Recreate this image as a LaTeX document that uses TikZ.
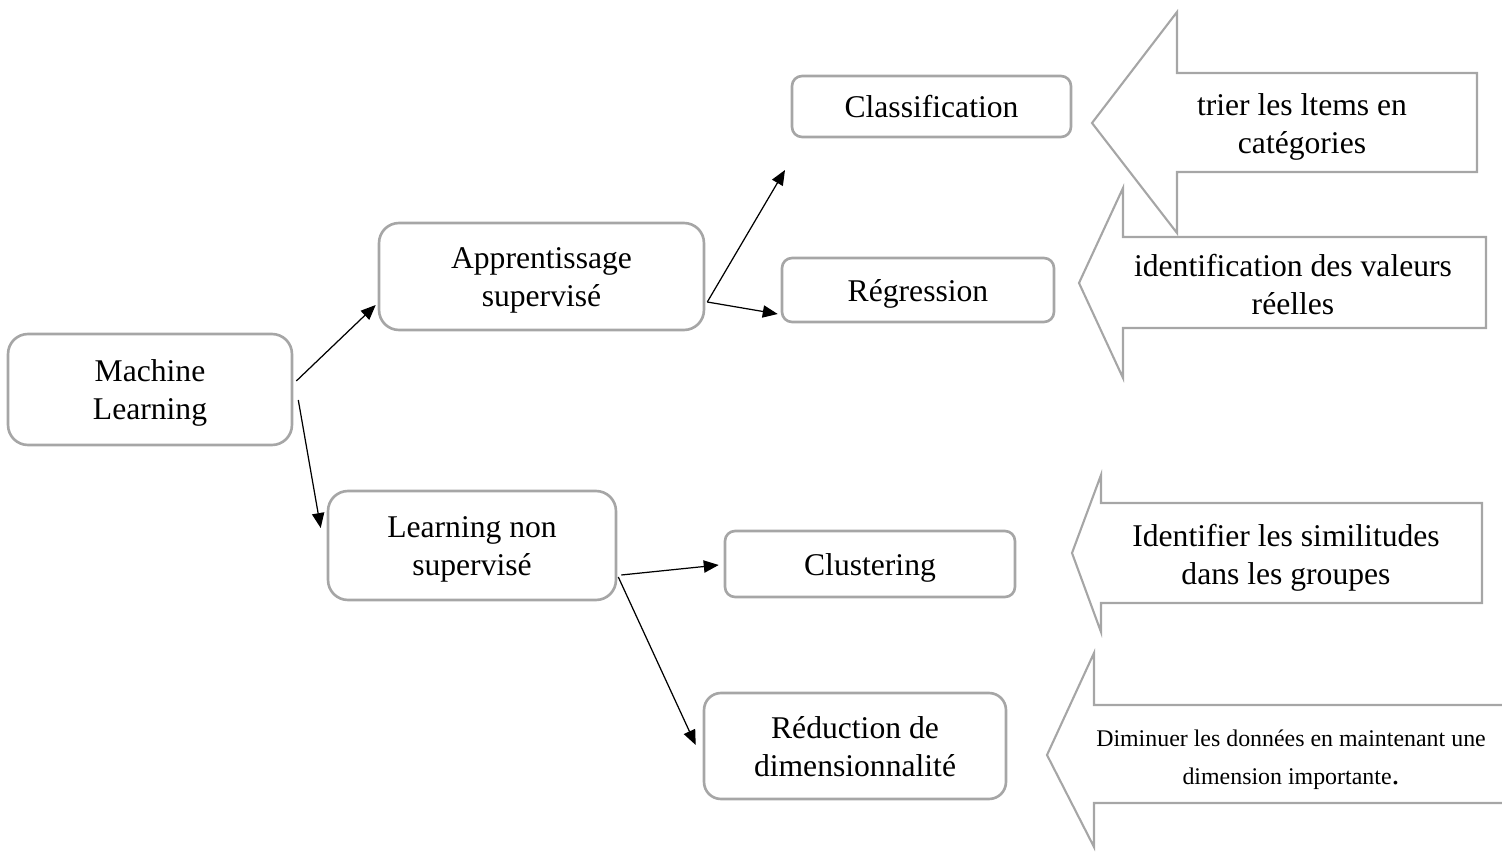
\documentclass[tikz,border=0pt]{standalone}
\usepackage{fontspec}
\setmainfont{Liberation Serif}
\usetikzlibrary{arrows.meta}
\usetikzlibrary{calc}
\definecolor{boxgray}{HTML}{A6A6A6}
\newcommand{\boxtext}[1]{\raisebox{-2.2pt}[\height][\depth]{\begin{tabular}{@{}c@{}}#1\end{tabular}}}

\begin{document}
\begin{tikzpicture}[x=0.02cm, y=-0.02cm,
  box/.style={draw=boxgray, line width=1.5pt, rounded corners=0.4cm, inner sep=0pt, font=\fontsize{18}{21.6}\selectfont},
  smallbox/.style={box, rounded corners=0.2cm},
  callout/.style={draw=boxgray, line width=1.2pt, line join=miter},
  note/.style={inner sep=0pt, font=\fontsize{18}{21.6}\selectfont},
  conn/.style={-{Triangle[length=8.5pt,width=7pt]}, line width=0.7pt}]
\useasboundingbox (0,0) rectangle (1502,855);

% boxes
\node[box, minimum width=5.68cm, minimum height=2.22cm] (ml) at (150,389.5) {\boxtext{Machine\\Learning}};
\node[box, minimum width=6.5cm, minimum height=2.14cm] (sup) at (541.5,276.5) {\boxtext{Apprentissage\\supervisé}};
\node[box, minimum width=5.76cm, minimum height=2.18cm] (nonsup) at (472,545.5) {\boxtext{Learning non\\supervisé}};
\node[smallbox, minimum width=5.58cm, minimum height=1.22cm] (cls) at (931.5,106.5) {\boxtext{Classification}};
\node[smallbox, minimum width=5.44cm, minimum height=1.28cm] (reg) at (918,290) {\boxtext{Régression}};
\node[smallbox, minimum width=5.8cm, minimum height=1.32cm] (clu) at (870,564) {\boxtext{Clustering}};
\node[box, rounded corners=0.34cm, minimum width=6.04cm, minimum height=2.12cm] (red) at (855,746) {\boxtext{Réduction de\\dimensionnalité}};
\coordinate (clsend) at (785,170);

% connectors
\draw[conn] ($(ml.east)+(3,-8.5)$) -- ($(sup.west)+(-2,28.5)$);
\draw[conn] ($(ml.east)+(5,10.5)$) -- ($(nonsup.west)+(-6,-17.5)$);
\draw[conn] ($(sup.east)+(2,25.5)$) -- (clsend);
\draw[conn] ($(sup.east)+(2,25.5)$) -- ($(reg.west)+(-3,24)$);
\draw[conn] ($(nonsup.east)+(4,29.5)$) -- ($(clu.west)+(-5,1)$);
\draw[conn] ($(nonsup.east)+(1,31.5)$) -- ($(red.west)+(-7,-1)$);

% block arrows
\draw[callout] (1092,123) -- (1177,12) -- (1177,73) -- (1477,73) -- (1477,172) -- (1177,172) -- (1177,233) -- cycle;
\draw[callout] (1079,283) -- (1123,188) -- (1123,237) -- (1486,237) -- (1486,328) -- (1123,328) -- (1123,378) -- cycle;
\draw[callout] (1072,553) -- (1101,475) -- (1101,503) -- (1482,503) -- (1482,603) -- (1101,603) -- (1101,632) -- cycle;
\draw[callout] (1502,705) -- (1094,705) -- (1094,653) -- (1047,755) -- (1094,847) -- (1094,803) -- (1502,803);

\node[note] (clsnote) at (1302,123.5) {\boxtext{trier les ltems en\\catégories}};
\node[note] (regnote) at (1293,284.5) {\boxtext{identification des valeurs\\réelles}};
\node[note] (clunote) at (1286,554.5) {\boxtext{Identifier les similitudes\\dans les groupes}};
\node[note, font=\fontsize{13.6}{21.6}\selectfont] (rednote) at (1291,754) {\boxtext{Diminuer les données en maintenant une\\dimension importante{\fontsize{18}{21.6}\selectfont .}}};
\end{tikzpicture}
\end{document}
